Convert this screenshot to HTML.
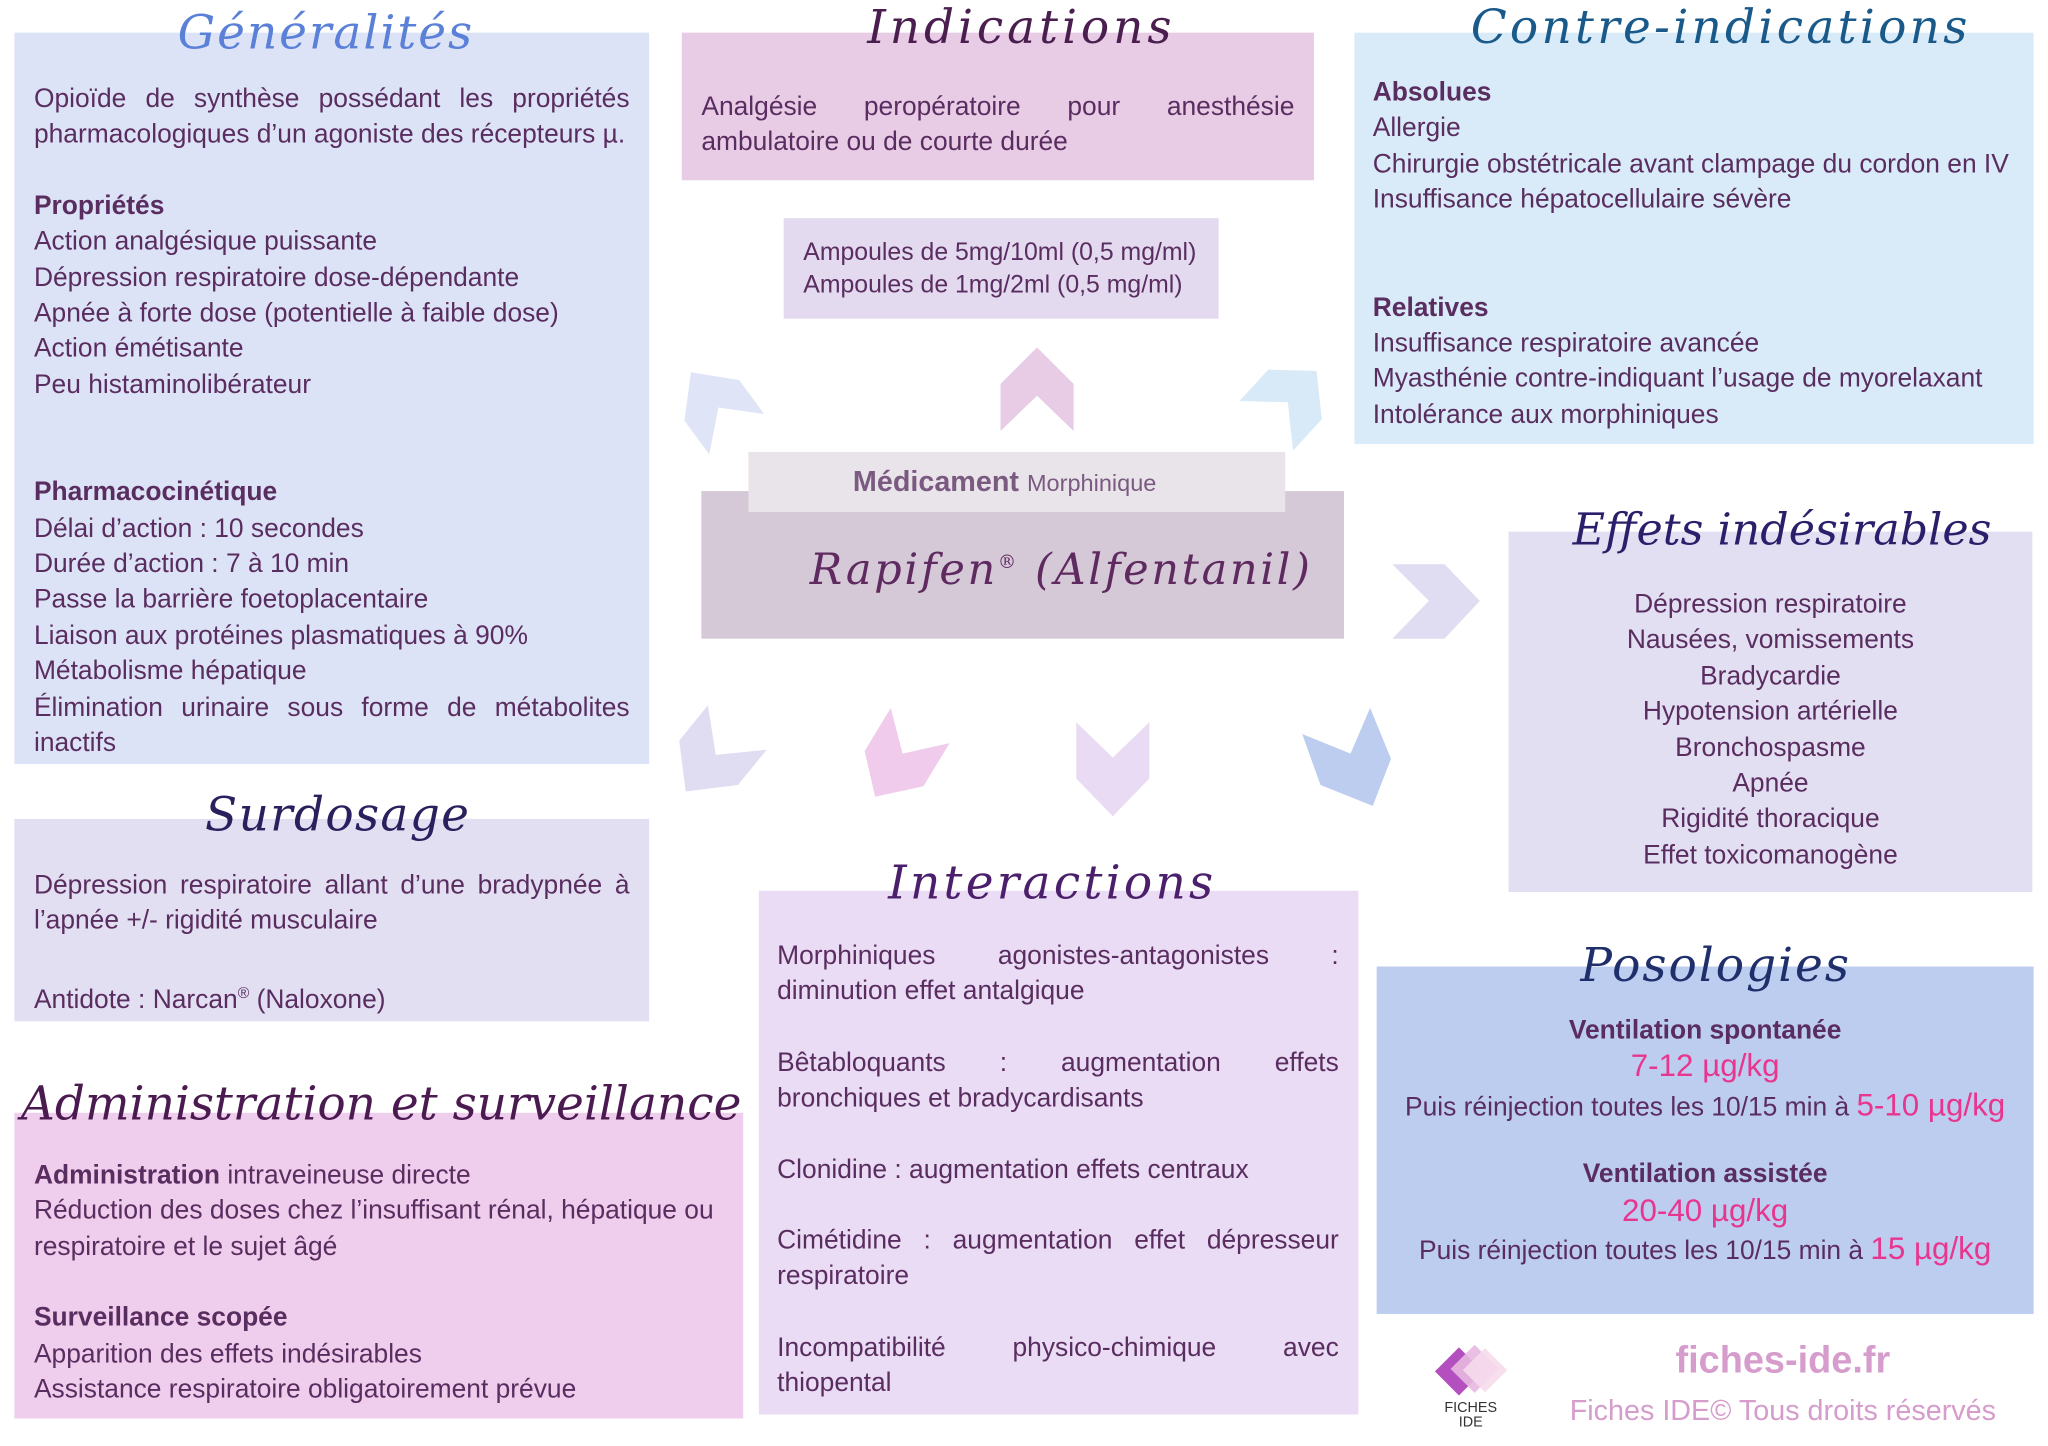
<!DOCTYPE html>
<html><head><meta charset="utf-8"><style>
html,body{margin:0;padding:0;background:#fff;}
body{width:2048px;height:1446px;overflow:hidden;position:relative;}
#w{position:absolute;left:0;top:0;width:1568px;height:1107px;transform:scale(1.30612);transform-origin:0 0;font-family:"Liberation Sans","DejaVu Sans",sans-serif;color:#5a2d60;font-size:20.2px;line-height:27.4px;}
.b{position:absolute;box-sizing:border-box;}
.t{position:absolute;font-family:"DejaVu Serif","Liberation Serif",serif;font-style:italic;font-size:36px;line-height:40px;white-space:nowrap;}
.j{text-align:justify;}
b{font-weight:bold;}
.c{text-align:center;}
.pk{color:#e8368f;font-size:24px;}
svg{position:absolute;left:0;top:0;}
</style></head><body>
<div id="w">
<div class="b" style="left:11px;top:25px;width:486px;height:560px;background:#dde3f6;padding:38px 15px 0 15px;">
<div class="j">Opioïde de synthèse possédant les propriétés pharmacologiques d’un agoniste des récepteurs µ.</div>
<div style="height:27px"></div>
<b>Propriétés</b><br>Action analgésique puissante<br>Dépression respiratoire dose-dépendante<br>Apnée à forte dose (potentielle à faible dose)<br>Action émétisante<br>Peu histaminolibérateur
<div style="height:55px"></div>
<b>Pharmacocinétique</b><br>Délai d’action : 10 secondes<br>Durée d’action : 7 à 10 min<br>Passe la barrière foetoplacentaire<br>Liaison aux protéines plasmatiques à 90%<br>Métabolisme hépatique
<div class="j">Élimination urinaire sous forme de métabolites inactifs</div>
</div>
<div class="t" style="left:136px;top:6px;color:#5a80d8;letter-spacing:1.5px;">Généralités</div>

<div class="b" style="left:522px;top:25px;width:484px;height:113px;background:#e8cce6;padding:44px 15px 0 15px;"><div class="j">Analgésie peropératoire pour anesthésie ambulatoire ou de courte durée</div></div>
<div class="t" style="left:664px;top:2px;color:#4a1f50;letter-spacing:3px;">Indications</div>

<div class="b" style="left:600px;top:167px;width:333px;height:77px;background:#e3daf0;padding:14px 15px 0 15px;font-size:19px;line-height:25px;">Ampoules de 5mg/10ml (0,5 mg/ml)<br>Ampoules de 1mg/2ml (0,5 mg/ml)</div>

<div class="b" style="left:1037px;top:25px;width:520px;height:315px;background:#d9ebf8;padding:33px 14px 0 14px;">
<b>Absolues</b><br>Allergie<br>Chirurgie obstétricale avant clampage du cordon en IV<br>Insuffisance hépatocellulaire sévère
<div style="height:55px"></div>
<b>Relatives</b><br>Insuffisance respiratoire avancée<br>Myasthénie contre-indiquant l’usage de myorelaxant<br>Intolérance aux morphiniques</div>
<div class="t" style="left:1126px;top:2px;color:#1a5a8a;letter-spacing:2.5px;">Contre-indications</div>

<div class="b" style="left:537px;top:376px;width:492px;height:113px;background:#d6c9d7;"></div>
<div class="b" style="left:573px;top:346px;width:411px;height:46px;background:#e9e3ea;"></div>
<div style="position:absolute;left:653px;top:355px;color:#7a5a80;font-size:22px;white-space:nowrap;"><b>Médicament</b> <span style="font-size:18px">Morphinique</span></div>
<div class="t" style="left:620px;top:411px;color:#5e2a60;font-size:33px;letter-spacing:2px;">Rapifen<sup style="font-size:14px">®</sup> (Alfentanil)</div>

<div class="b c" style="left:1155px;top:407px;width:401px;height:276px;background:#e3dff2;padding:43px 0 0 0;">Dépression respiratoire<br>Nausées, vomissements<br>Bradycardie<br>Hypotension artérielle<br>Bronchospasme<br>Apnée<br>Rigidité thoracique<br>Effet toxicomanogène</div>
<div class="t" style="left:1204px;top:386px;color:#2b1f6b;font-size:34px;">Effets indésirables</div>

<div class="b" style="left:11px;top:627px;width:486px;height:155px;background:#e2dff2;padding:38px 15px 0 15px;">
<div class="j">Dépression respiratoire allant d’une bradypnée à l’apnée +/- rigidité musculaire</div><div style="height:27px"></div>Antidote : Narcan<sup style="font-size:12px">®</sup> (Naloxone)</div>
<div class="t" style="left:157px;top:605px;color:#2b1f5e;letter-spacing:1px;">Surdosage</div>

<div class="b" style="left:11px;top:852px;width:558px;height:234px;background:#efcdec;padding:35px 15px 0 15px;">
<b>Administration</b> intraveineuse directe<br>Réduction des doses chez l’insuffisant rénal, hépatique ou respiratoire et le sujet âgé
<div style="height:27px"></div><b>Surveillance scopée</b><br>Apparition des effets indésirables<br>Assistance respiratoire obligatoirement prévue</div>
<div class="t" style="left:16px;top:826px;color:#4a1a50;">Administration et surveillance</div>

<div class="b" style="left:581px;top:682px;width:459px;height:401px;background:#eadcf4;padding:37px 15px 0 14px;">
<div class="j">Morphiniques agonistes-antagonistes : diminution effet antalgique</div><div style="height:27px"></div>
<div class="j">Bêtabloquants : augmentation effets bronchiques et bradycardisants</div><div style="height:27px"></div>
<div>Clonidine : augmentation effets centraux</div><div style="height:27px"></div>
<div class="j">Cimétidine : augmentation effet dépresseur respiratoire</div><div style="height:27px"></div>
<div class="j">Incompatibilité physico-chimique avec thiopental</div></div>
<div class="t" style="left:680px;top:657px;color:#4b1f6b;letter-spacing:2.5px;">Interactions</div>

<div class="b c" style="left:1054px;top:740px;width:503px;height:266px;background:#bccdef;padding:36px 0 0 0;">
<b>Ventilation spontanée</b><br><span class="pk">7-12 µg/kg</span><br>Puis réinjection toutes les 10/15 min à <span class="pk">5-10 µg/kg</span>
<div style="height:24px"></div>
<b>Ventilation assistée</b><br><span class="pk">20-40 µg/kg</span><br>Puis réinjection toutes les 10/15 min à <span class="pk">15 µg/kg</span></div>
<div class="t" style="left:1210px;top:720px;color:#1f2f6b;letter-spacing:1.5px;">Posologies</div>

<div style="position:absolute;left:1098px;top:1025px;width:56px;height:50px;">
<div style="position:absolute;left:6px;top:12px;width:26px;height:26px;background:#b44fc0;transform:rotate(45deg);"></div>
<div style="position:absolute;left:18px;top:10px;width:26px;height:26px;background:#e7b9e0;transform:rotate(45deg);opacity:.9"></div>
<div style="position:absolute;left:27px;top:12px;width:24px;height:24px;background:#f6dbec;transform:rotate(45deg);opacity:.9"></div>
</div>
<div style="position:absolute;left:1100px;top:1073px;width:52px;font-size:11px;line-height:11px;text-align:center;color:#333;">FICHES<br>IDE</div>
<div style="position:absolute;left:1190px;top:1024px;width:350px;text-align:center;color:#d59ccc;font-weight:bold;font-size:29px;line-height:36px;">fiches-ide.fr</div>
<div style="position:absolute;left:1170px;top:1066px;width:390px;text-align:center;color:#d59ccc;font-size:22px;line-height:28px;">Fiches IDE© Tous droits réservés</div>

<svg width="1568" height="1107" viewBox="0 0 1568 1107">
<polygon fill="#e8cce6" points="766,294 794,266 822,294 822,330 794,303 766,330"/>
<polygon fill="#dfe5f6" points="529,285 566,291 585,317 550,312 543,348 524,322"/>
<polygon fill="#d8eaf8" points="971,283 1008,284 1012,321 990,345 986,308 949,307"/>
<polygon fill="#e0dcf2" points="1066,432 1106,432 1133,460 1106,489 1066,489 1094,460"/>
<polygon fill="#e0ddf2" points="542,540 548,578 587,574 565,601 525,606 520,567"/>
<polygon fill="#f0cbeb" points="682,542 691,577 727,569 707,602 670,610 662,575"/>
<polygon fill="#e9dbf3" points="824,553 852,580 880,553 880,596 852,625 824,596"/>
<polygon fill="#bccdef" points="1049,542 1065,581 1051,617 1011,601 997,562 1034,577"/>
</svg>
</div>
</body></html>
